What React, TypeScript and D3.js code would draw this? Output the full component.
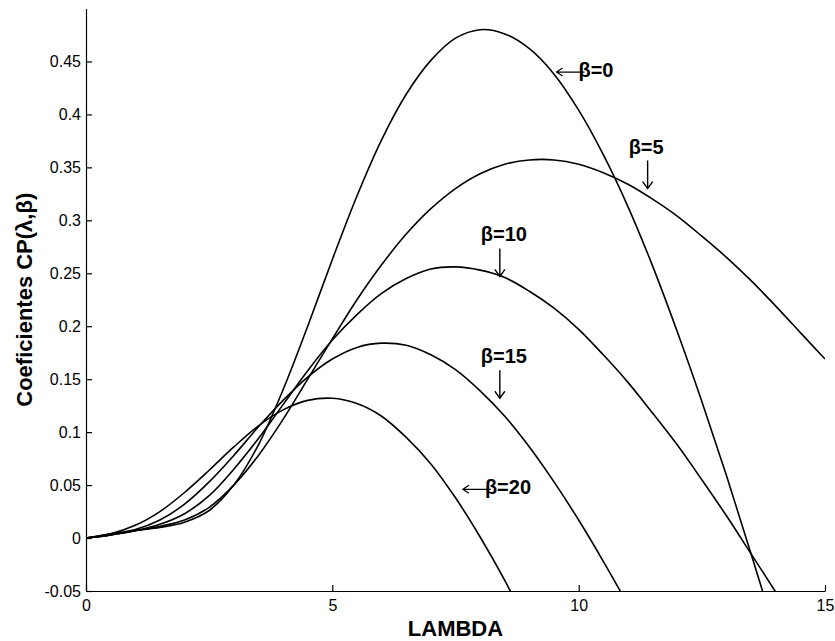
import React, { useEffect, useRef } from "react";
import * as d3 from "d3";

// tip speed ratio samples
const lambda = [
  0, 0.5, 1, 1.5, 2, 2.5, 3, 3.5, 4, 4.5, 5, 5.5, 6, 6.5, 7, 7.5, 8, 8.5, 9, 9.5,
  10, 10.5, 11, 11.5, 12, 12.5, 13, 13.5, 14, 14.5, 15,
];

// power coefficient, one array per pitch angle
const cpBeta0 = [
  0, 0.003, 0.007, 0.01, 0.015, 0.026, 0.05, 0.088, 0.14, 0.2, 0.263, 0.323, 0.376, 0.419, 0.451,
  0.472, 0.48, 0.476, 0.462, 0.438, 0.404, 0.362, 0.313, 0.257, 0.195, 0.129, 0.059, -0.015, -0.091,
];
const cpBeta5 = [
  0, 0.003, 0.007, 0.011, 0.017, 0.029, 0.05, 0.078, 0.112, 0.15, 0.188, 0.225, 0.258, 0.287, 0.311,
  0.33, 0.344, 0.353, 0.357, 0.357, 0.353, 0.345, 0.334, 0.32, 0.304, 0.285, 0.265, 0.243, 0.219,
  0.194, 0.169,
];
const cpBeta10 = [
  0, 0.003, 0.007, 0.013, 0.023, 0.04, 0.065, 0.094, 0.126, 0.158, 0.187, 0.211, 0.231, 0.245, 0.254,
  0.256, 0.253, 0.246, 0.233, 0.217, 0.197, 0.173, 0.147, 0.118, 0.088, 0.055, 0.021, -0.015, -0.051,
  -0.088,
];
const cpBeta15 = [
  0, 0.004, 0.008, 0.017, 0.032, 0.053, 0.078, 0.105, 0.13, 0.152, 0.169, 0.18, 0.184, 0.182, 0.173,
  0.159, 0.139, 0.115, 0.086, 0.053, 0.017, -0.022, -0.063,
];
const cpBeta20 = [
  0, 0.004, 0.012, 0.025, 0.043, 0.064, 0.086, 0.106, 0.121, 0.13, 0.132, 0.127, 0.115, 0.095, 0.07,
  0.038, 0.001, -0.04, -0.086,
];

const series = [cpBeta0, cpBeta5, cpBeta10, cpBeta15, cpBeta20];

const xTicks = [0, 5, 10, 15];
const yTicks = [-0.05, 0, 0.05, 0.1, 0.15, 0.2, 0.25, 0.3, 0.35, 0.4, 0.45];
const yTickLabels = ["-0.05", "0", "0.05", "0.1", "0.15", "0.2", "0.25", "0.3", "0.35", "0.4", "0.45"];

// labels: text, anchor point in data units, arrow direction
const labels = [
  { text: "β=0", at: [9.55, 0.44], dir: "left" },
  { text: "β=5", at: [11.4, 0.33], dir: "down" },
  { text: "β=10", at: [8.4, 0.247], dir: "down" },
  { text: "β=15", at: [8.4, 0.132], dir: "down" },
  { text: "β=20", at: [7.65, 0.046], dir: "left" },
];

const W = 835;
const H = 641;

const App = () => {
  const svgRef = useRef<SVGSVGElement>(null);

  useEffect(() => {
    const svg = d3.select(svgRef.current);
    svg.selectAll("*").remove();

    const x = d3.scaleLinear().domain([0, 15]).range([86, 825]);
    const y = d3.scaleLinear().domain([-0.05, 0.5]).range([591, 8.5]);

    svg
      .append("clipPath")
      .attr("id", "plotArea")
      .append("rect")
      .attr("x", 86)
      .attr("y", 8.5)
      .attr("width", 825 - 86)
      .attr("height", 591 - 8.5);

    const line = d3
      .line<number>()
      .x((_, i) => x(lambda[i]))
      .y((d) => y(d))
      .curve(d3.curveCatmullRom.alpha(0.5));

    svg
      .append("g")
      .attr("clip-path", "url(#plotArea)")
      .selectAll("path")
      .data(series)
      .join("path")
      .attr("d", (d) => line(d))
      .attr("fill", "none")
      .attr("stroke", "#000")
      .attr("stroke-width", 1.6);

    const yAxis = svg
      .append("g")
      .attr("transform", "translate(86,0)")
      .call(
        d3
          .axisLeft(y)
          .tickValues(yTicks)
          .tickSizeInner(-6)
          .tickSizeOuter(0)
          .tickPadding(5)
          .tickFormat((_, i) => yTickLabels[i])
      );

    const xAxis = svg
      .append("g")
      .attr("transform", "translate(0,591)")
      .call(
        d3
          .axisBottom(x)
          .tickValues(xTicks)
          .tickSizeInner(-6)
          .tickSizeOuter(0)
          .tickPadding(9)
          .tickFormat(d3.format("d"))
      );

    [xAxis, yAxis].forEach((g) => {
      g.attr("font-family", "Arial, 'Liberation Sans', sans-serif").attr("font-size", 16);
      g.selectAll("path, line").attr("stroke", "#000").attr("stroke-width", 1.2);
      g.selectAll("text").attr("fill", "#000");
    });

    svg
      .append("text")
      .attr("x", (86 + 825) / 2)
      .attr("y", 636)
      .attr("text-anchor", "middle")
      .attr("font-family", "Arial, 'Liberation Sans', sans-serif")
      .attr("font-weight", "bold")
      .attr("font-size", 22)
      .text("LAMBDA");

    svg
      .append("text")
      .attr("transform", `translate(32,${(8.5 + 591) / 2}) rotate(-90)`)
      .attr("text-anchor", "middle")
      .attr("font-family", "Arial, 'Liberation Sans', sans-serif")
      .attr("font-weight", "bold")
      .attr("font-size", 22)
      .text("Coeficientes CP(λ,β)");

    // curve labels with arrows
    const ann = svg.append("g").attr("font-family", "Arial, 'Liberation Sans', sans-serif");
    labels.forEach((l) => {
      const px = x(l.at[0]);
      const py = y(l.at[1]);
      if (l.dir === "left") {
        ann
          .append("path")
          .attr("d", `M${px},${py} H${px + 28} M${px + 6},${py - 4} L${px},${py} L${px + 6},${py + 4}`)
          .attr("fill", "none")
          .attr("stroke", "#000")
          .attr("stroke-width", 1.2);
        ann
          .append("text")
          .attr("x", px + 22)
          .attr("y", py + 5)
          .attr("font-weight", "bold")
          .attr("font-size", 20)
          .text(l.text);
      } else {
        ann
          .append("path")
          .attr("d", `M${px},${py} V${py - 28} M${px - 5},${py - 7} L${px},${py} L${px + 5},${py - 7}`)
          .attr("fill", "none")
          .attr("stroke", "#000")
          .attr("stroke-width", 1.4);
        ann
          .append("text")
          .attr("x", px - 19)
          .attr("y", py - 35)
          .attr("font-weight", "bold")
          .attr("font-size", 20)
          .text(l.text);
      }
    });
  }, []);

  return (
    <svg
      ref={svgRef}
      width={W}
      height={H}
      style={{ position: "absolute", left: 0, top: 0, background: "#fff" }}
    ></svg>
  );
};

export default App;
